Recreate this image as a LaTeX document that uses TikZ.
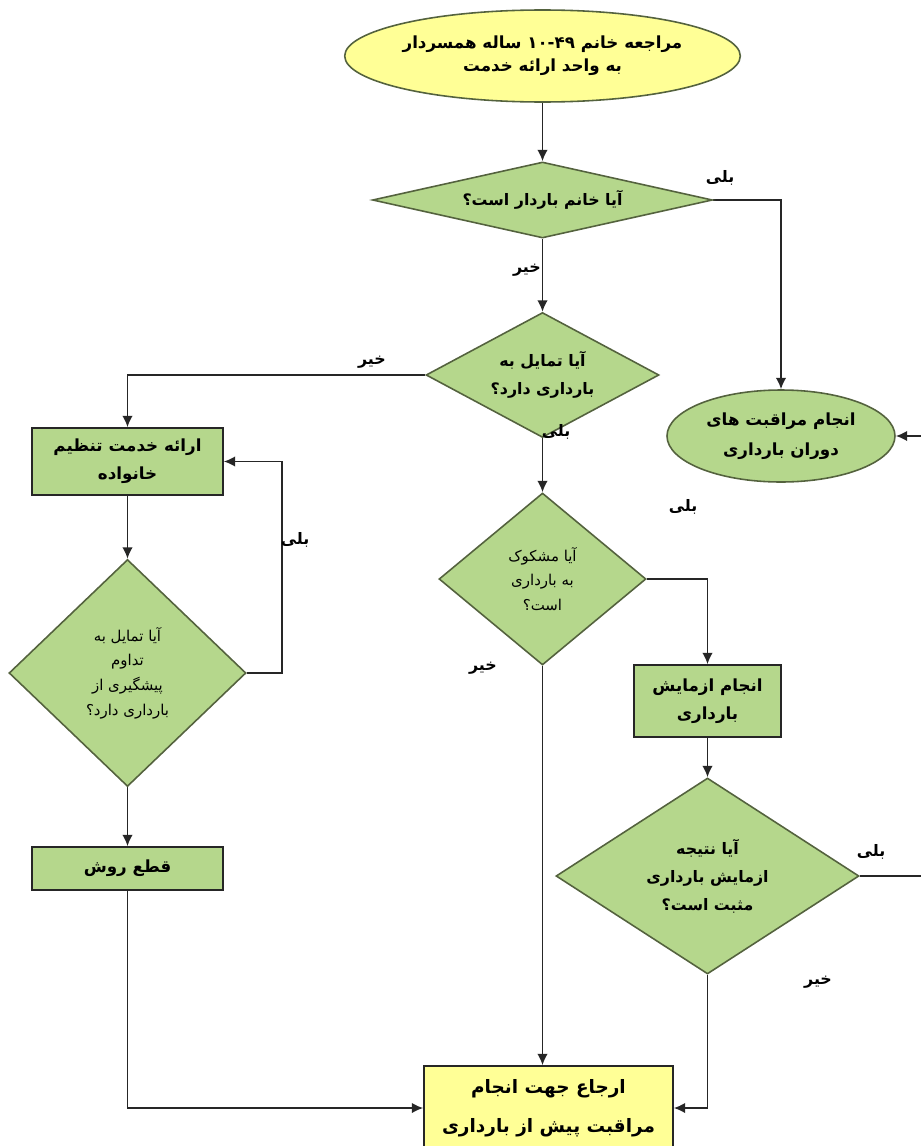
\documentclass[tikz,border=0pt]{standalone}
\usepackage{fontspec}
\usepackage{tikz}
\usetikzlibrary{shapes.geometric,arrows.meta}
\newfontfamily\farsi[Script=Arabic]{DejaVu Sans}
\TeXXeTstate=1
\newcommand{\rtlline}[1]{\beginR #1\endR}
\definecolor{paleyellow}{RGB}{255,255,150}
\definecolor{palegreen}{RGB}{181,215,140}
\definecolor{edgegreen}{RGB}{84,98,62}
\pgfdeclarelayer{edgelayer}
\pgfdeclarelayer{nodelayer}
\pgfsetlayers{edgelayer,nodelayer,main}
\tikzstyle{none} = [inner sep=0pt, font=\farsi\bfseries\fontsize{9}{11}\selectfont]
\tikzstyle{start} = [ellipse, draw=edgegreen, line width=0.9pt, fill=paleyellow, align=center, inner sep=0pt, font=\farsi\bfseries\fontsize{9.5}{13}\selectfont]
\tikzstyle{care} = [ellipse, draw=edgegreen, line width=0.9pt, fill=palegreen, align=center, inner sep=0pt, font=\farsi\bfseries\fontsize{9.5}{17}\selectfont]
\tikzstyle{decision} = [diamond, draw=edgegreen, line width=0.9pt, fill=palegreen, align=center, inner sep=0pt, font=\farsi\bfseries\fontsize{9}{16}\selectfont]
\tikzstyle{question} = [diamond, draw=edgegreen, line width=0.9pt, fill=palegreen, align=center, inner sep=0pt, font=\farsi\fontsize{8.5}{14}\selectfont]
\tikzstyle{action} = [rectangle, draw=black!85, line width=0.9pt, fill=palegreen, align=center, inner sep=0pt, font=\farsi\bfseries\fontsize{9.5}{16}\selectfont]
\tikzstyle{referral} = [rectangle, draw=black!85, line width=0.9pt, fill=paleyellow, align=center, inner sep=0pt, font=\farsi\bfseries\fontsize{10.5}{22}\selectfont]
\tikzstyle{flow} = [-{Latex[length=6.5pt,width=6pt]}, draw=black!85, line width=1pt]

\begin{document}
\begin{tikzpicture}
	\useasboundingbox (0, 0) rectangle (18.42, -22.92);
	\begin{pgfonlayer}{nodelayer}
		\node [style=start, minimum width=7.76cm, minimum height=1.84cm] (0) at (10.85, -1.12) {\rtlline{مراجعه خانم ۱۰-۴۹ ساله همسردار}\\\rtlline{به واحد ارائه خدمت}};
		\node [style=decision, aspect=4.47, minimum width=6.8cm, minimum height=1.52cm] (1) at (10.85, -4) {\rtlline{آیا خانم باردار است؟}};
		\node [style=care, minimum width=4.56cm, minimum height=1.84cm] (2) at (15.62, -8.72) {\rtlline{انجام مراقبت های}\\\rtlline{دوران بارداری}};
		\node [style=decision, aspect=1.86, minimum width=4.66cm, minimum height=2.5cm] (3) at (10.85, -7.5) {\rtlline{آیا تمایل به}\\\rtlline{بارداری دارد؟}};
		\node [style=action, minimum width=3.82cm, minimum height=1.34cm] (4) at (2.55, -9.23) {\rtlline{ارائه خدمت تنظیم}\\\rtlline{خانواده}};
		\node [style=question, aspect=1.2, minimum width=4.14cm, minimum height=3.44cm] (5) at (10.85, -11.58) {\rtlline{آیا مشکوک}\\\rtlline{به بارداری}\\\rtlline{است؟}};
		\node [style=action, minimum width=2.94cm, minimum height=1.44cm] (6) at (14.15, -14.02) {\rtlline{انجام ازمایش}\\\rtlline{بارداری}};
		\node [style=question, aspect=1.04, minimum width=4.74cm, minimum height=4.54cm] (7) at (2.55, -13.46) {\rtlline{آیا تمایل به}\\\rtlline{تداوم}\\\rtlline{پیشگیری از}\\\rtlline{بارداری دارد؟}};
		\node [style=decision, aspect=1.55, minimum width=6.06cm, minimum height=3.92cm] (8) at (14.15, -17.52) {\rtlline{آیا نتیجه}\\\rtlline{ازمایش بارداری}\\\rtlline{مثبت است؟}};
		\node [style=action, minimum width=3.82cm, minimum height=0.86cm] (9) at (2.55, -17.37) {\rtlline{قطع روش}};
		\node [style=referral, minimum width=4.98cm, minimum height=1.68cm] (10) at (10.97, -22.16) {\rtlline{ارجاع جهت انجام}\\\rtlline{مراقبت پیش از بارداری}};
		\coordinate (11) at (5.64, -13.46);
		\coordinate (12) at (19.2, -17.52);
		\node [style=none] (13) at (14.4, -3.56) {\rtlline{بلی}};
		\node [style=none] (14) at (10.54, -5.4) {\rtlline{خیر}};
		\node [style=none] (15) at (7.44, -7.24) {\rtlline{خیر}};
		\node [style=none] (16) at (11.12, -8.64) {\rtlline{بلی}};
		\node [style=none] (17) at (13.66, -10.14) {\rtlline{بلی}};
		\node [style=none] (18) at (5.9, -10.8) {\rtlline{بلی}};
		\node [style=none] (19) at (9.66, -13.36) {\rtlline{خیر}};
		\node [style=none] (20) at (17.42, -17.04) {\rtlline{بلی}};
		\node [style=none] (21) at (16.36, -19.64) {\rtlline{خیر}};
	\end{pgfonlayer}
	\begin{pgfonlayer}{edgelayer}
		\draw [style=flow] (0) to (1);
		\draw [style=flow] (1.east) -| (2.north);
		\draw [style=flow] (1.south) to (3.north);
		\draw [style=flow] (3.west) -| (4.north);
		\draw [style=flow] (3.south) to (5.north);
		\draw [style=flow] (4.south) to (7.north);
		\draw [style=flow] (7.east) to (11) |- (4.east);
		\draw [style=flow] (7.south) to (9.north);
		\draw [style=flow] (9.south) |- (10.west);
		\draw [style=flow] (5.east) -| (6.north);
		\draw [style=flow] (5.south) to (5.south |- 10.north);
		\draw [style=flow] (6.south) to (8.north);
		\draw [style=flow] (8.south) |- (10.east);
		\draw [style=flow] (8.east) to (12) |- (2.east);
	\end{pgfonlayer}
\end{tikzpicture}
\end{document}
